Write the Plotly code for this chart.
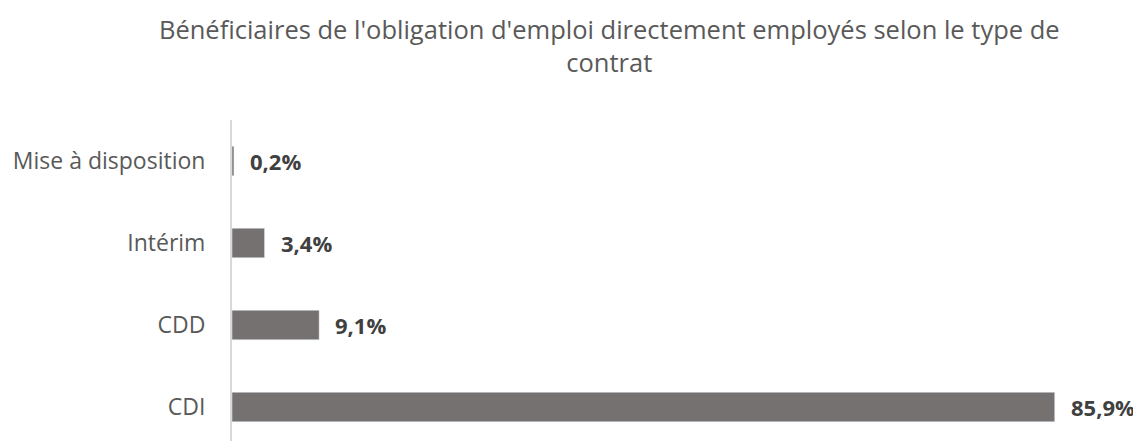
import plotly.graph_objects as go

categories = ["CDI", "CDD", "Intérim", "Mise à disposition"]
values = [85.9, 9.1, 3.4, 0.2]
labels = ["85,9%", "9,1%", "3,4%", "0,2%"]

fig = go.Figure()

fig.add_trace(go.Bar(
    x=values,
    y=categories,
    orientation='h',
    marker_color='#767171',
    hoverinfo='skip',
))

# Data labels to the right of each bar
for v, c, t in zip(values, categories, labels):
    fig.add_annotation(
        x=v, y=c, text="<b>" + t + "</b>",
        xanchor='left', xshift=14, showarrow=False,
        font=dict(family="Open Sans", size=22, color='#404040'),
    )

fig.update_layout(
    title=dict(
        text="Bénéficiaires de l'obligation d'emploi directement employés selon le type de<br>contrat",
        x=0.527, xanchor='center', y=0.93, yanchor='top',
        font=dict(family="Open Sans", size=25.5, color='#595959'),
    ),
    width=1141, height=441,
    margin=dict(l=224, r=55, t=112, b=1),
    plot_bgcolor='white', paper_bgcolor='white',
    bargap=0.64,
    showlegend=False,
    font=dict(family="Open Sans"),
)

fig.update_xaxes(range=[0, 90], visible=False)
fig.update_yaxes(
    showline=True, linecolor='#d9d9d9', linewidth=2,
    showgrid=False, ticks='', ticklabelstandoff=20,
    tickfont=dict(family="Open Sans", size=23, color='#595959'),
)

fig.write_html("out.html")
